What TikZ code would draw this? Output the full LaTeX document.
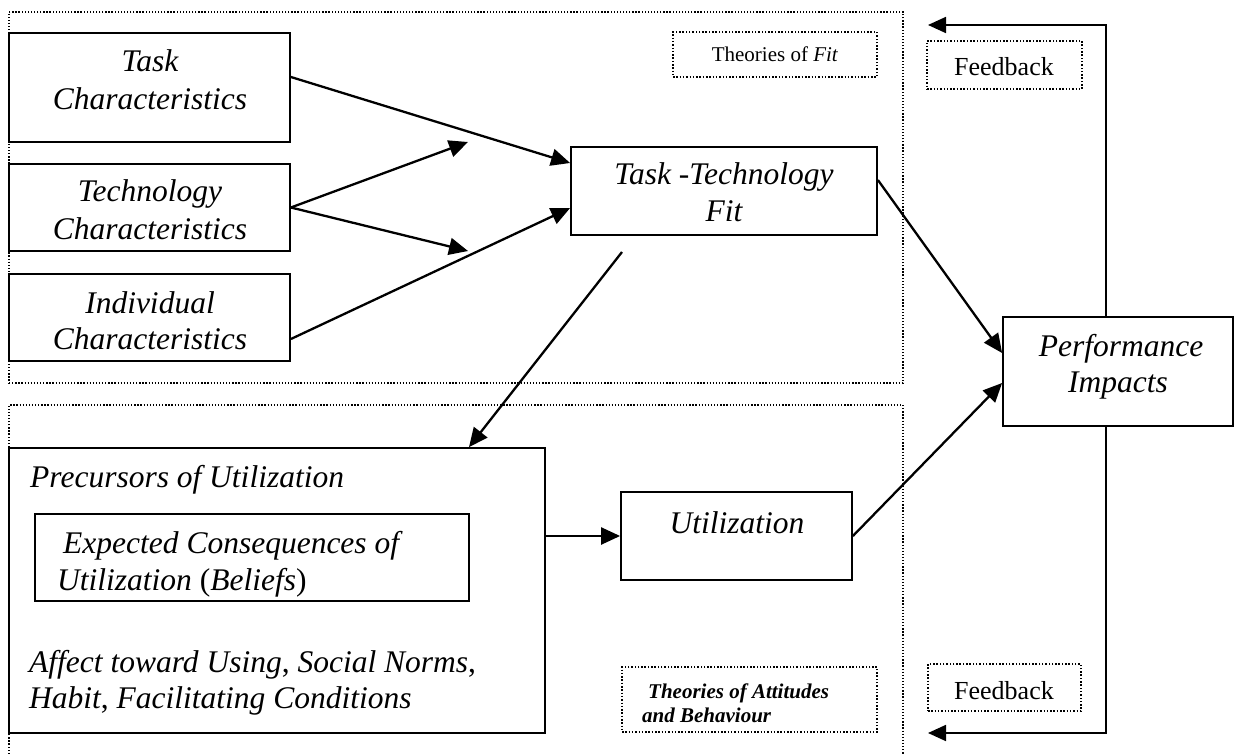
\documentclass[tikz,border=0pt]{standalone}
\usepackage{fontspec}
\setmainfont{Liberation Serif}
\usetikzlibrary{arrows.meta,fit}
\begin{document}
\begin{tikzpicture}[x=1pt,y=-1pt,
  boxs/.style={draw, line width=1.8pt, fill=white, inner sep=0pt},
  regs/.style={draw, line width=1.3pt, dash pattern=on 1.3pt off 1.8pt, inner sep=0pt},
  lbl/.style={draw, line width=1.5pt, dash pattern=on 1.5pt off 1.8pt, inner sep=0pt},
  arr/.style={line width=2.3pt, -{Triangle[length=19pt,width=17pt]}},
  big/.style={anchor=base, inner sep=0pt, font=\fontsize{31.5}{37}\selectfont\itshape},
  bigl/.style={big, anchor=base west},
  small/.style={anchor=base, inner sep=0pt, font=\fontsize{21}{24}\selectfont},
  smallbi/.style={anchor=base west, inner sep=0pt, font=\fontsize{21}{24}\selectfont\bfseries\itshape},
  fbfont/.style={anchor=base, inner sep=0pt, font=\fontsize{26}{30}\selectfont}
]
\useasboundingbox[fill=white] (0,0) rectangle (1240,754);

% regions
\node[regs, fit={(9,12) (903,383)}] (topreg) {};
\draw[line width=1.3pt, dash pattern=on 1.3pt off 1.8pt] (9,754) -- (9,405) -- (903,405) -- (903,754);

% label boxes
\node[lbl, fit={(673,32) (877,77)}] (tof) {};
\node[small] (toft) at (775,62) {Theories of \textit{Fit}};
\node[lbl, fit={(927,41) (1082,89)}] (fb1) {};
\node[fbfont] (fb1t) at (1004,76) {Feedback};
\node[lbl, fit={(928,664) (1081,711)}] (fb2) {};
\node[fbfont] (fb2t) at (1004,699) {Feedback};
\node[lbl, fit={(622,667) (877,732)}] (tab) {};
\node[smallbi] (tabA) at (648,698) {Theories of Attitudes};
\node[smallbi] (tabB) at (642,722) {and Behaviour};

% feedback loop
\coordinate (fbtop) at (928,25);
\coordinate (fbbot) at (928,733);
\coordinate (fbk1) at (1106,25);
\coordinate (fbk2) at (1106,733);
\draw[line width=1.8pt, {Triangle[length=18pt,width=16pt]}-{Triangle[length=18pt,width=16pt]}]
  (fbtop) -- (fbk1) -- (fbk2) -- (fbbot);

% boxes
\node[boxs, fit={(9,33) (290,142)}] (task) {};
\node[boxs, fit={(9,164) (290,251)}] (tech) {};
\node[boxs, fit={(9,274) (290,361)}] (indiv) {};
\node[boxs, fit={(571,147) (877,235)}] (ttf) {};
\node[boxs, fit={(1003,317) (1233,426)}] (perf) {};
\node[boxs, fit={(9,448) (545,733)}] (prec) {};
\node[boxs, fit={(35,514) (469,601)}] (ecu) {};
\node[boxs, fit={(621,492) (852,580)}] (util) {};

% texts
\node[big] (taskA) at (150,72) {Task};
\node[big] (taskB) at (150,110) {Characteristics};
\node[big] (techA) at (150,202) {Technology};
\node[big] (techB) at (150,240) {Characteristics};
\node[big] (indA) at (150,313) {Individual};
\node[big] (indB) at (150,349) {Characteristics};
\node[big] (ttfA) at (724,185) {Task -Technology};
\node[big] (ttfB) at (724,222) {Fit};
\node[big] (perfA) at (1121,356) {Performance};
\node[big] (perfB) at (1118,392) {Impacts};
\node[big] (utilA) at (737,533) {Utilization};
\node[bigl] (precA) at (30,487) {Precursors of Utilization};
\node[bigl] (ecuA) at (63,553) {Expected Consequences of};
\node[bigl] (ecuB) at (57,590) {Utilization {\upshape(}Beliefs{\upshape)}};
\node[bigl] (affA) at (29,672) {Affect toward Using{\upshape,} Social Norms{\upshape,}};
\node[bigl] (affB) at (29,708) {Habit{\upshape,} Facilitating Conditions};

% connectors
\coordinate (techup) at (468,142);
\coordinate (techdn) at (468,251);
\coordinate (ttfout) at (622,252);
\draw[arr] ([yshift=10.5pt]task.east) -- ([yshift=28pt]ttf.west);
\draw[arr] (tech.east) -- (techup);
\draw[arr] (tech.east) -- (techdn);
\draw[arr] ([yshift=-21.5pt]indiv.east) -- ([yshift=-17pt]ttf.west);
\draw[arr] (ttfout) -- ([xshift=192pt]prec.north);
\draw[arr] ([yshift=54.5pt]prec.east) -- (util.west);
\draw[arr] ([yshift=11pt]ttf.east) -- ([yshift=18.5pt]perf.west);
\draw[arr] (util.east) -- ([yshift=-11.5pt]perf.west);
\end{tikzpicture}
\end{document}
